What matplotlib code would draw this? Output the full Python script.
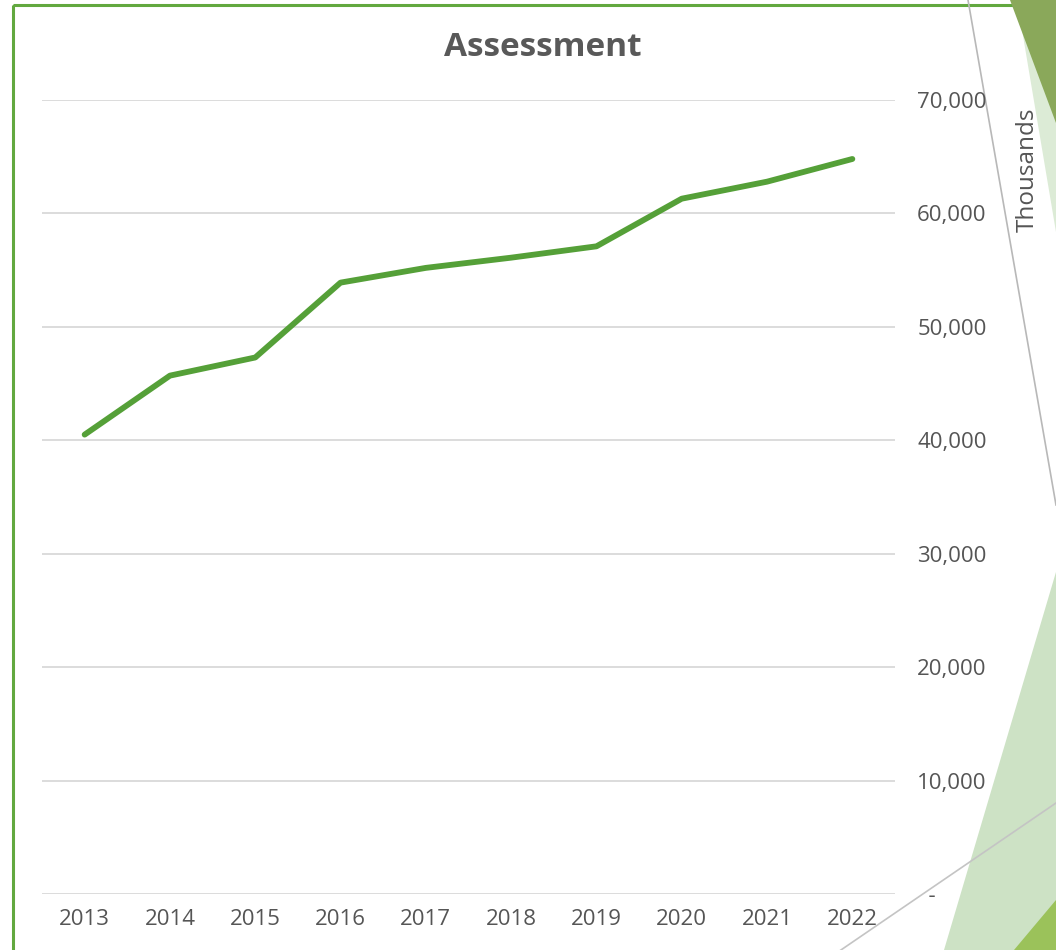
import matplotlib.pyplot as plt
from matplotlib.patches import Polygon, Rectangle
from matplotlib.ticker import FuncFormatter

years = ['2013', '2014', '2015', '2016', '2017', '2018', '2019', '2020', '2021', '2022']
assessment = [40500, 45700, 47300, 53900, 55200, 56100, 57100, 61300, 62800, 64800]
yticks = [0, 10000, 20000, 30000, 40000, 50000, 60000, 70000]

W, H = 1056, 950
fig = plt.figure(figsize=(W / 100, H / 100), dpi=100)

# slide decoration behind the chart (pixel coords)
bg = fig.add_axes([0, 0, 1, 1], zorder=0)
bg.set_xlim(0, W)
bg.set_ylim(H, 0)
bg.axis('off')
bg.add_patch(Rectangle((12.5, 4.5), 1200, 960, fill=False, ec='#62a83f', lw=2.2))
bg.add_patch(Polygon([(1017, 0), (1056, 0), (1056, 232)], closed=True, color='#dcebd6', lw=0))
bg.add_patch(Polygon([(1010, 0), (1056, 0), (1056, 123)], closed=True, color='#8aa85a', lw=0))
bg.add_patch(Polygon([(1056, 572), (1056, 950), (944, 950)], closed=True, color='#cde2c5', lw=0))
bg.add_patch(Polygon([(1056, 900), (1056, 950), (1014, 950)], closed=True, color='#9bc25a', lw=0))
bg.plot([968, 1056], [0, 505], color='#b8b8b8', lw=1.2)
bg.plot([838, 1056], [952, 803], color='#c4c4c4', lw=1.2)

ax = fig.add_axes([42 / W, 1 - 894 / H, (895 - 42) / W, (894 - 100) / H], zorder=1)
ax.patch.set_alpha(0)
x = list(range(len(years)))
ax.plot(x, assessment, color='#55a038', lw=4.2, solid_capstyle='round', solid_joinstyle='round', zorder=3)

ax.set_xlim(-0.5, len(years) - 0.5)
ax.set_ylim(0, 70000)
ax.set_xticks(x)
ax.set_xticklabels(years)
ax.set_yticks(yticks)
ax.yaxis.set_major_formatter(FuncFormatter(lambda v, p: '  -' if v == 0 else '{:,.0f}'.format(v)))
ax.yaxis.tick_right()
ax.grid(axis='y', color='#d9d9d9', lw=1.3)
ax.set_axisbelow(True)
for s in ax.spines.values():
    s.set_visible(False)
ax.tick_params(axis='y', length=0, pad=16, labelsize=16, labelcolor='#555555')
ax.tick_params(axis='x', length=0, pad=11, labelsize=16, labelcolor='#555555')
for lab in ax.get_xticklabels() + ax.get_yticklabels():
    lab.set_fontfamily('Open Sans')
    lab.set_fontweight('medium')
for lab in ax.get_yticklabels():
    lab.set_horizontalalignment('left')

fig.text(543 / W, 1 - 47 / H, 'Assessment', ha='center', va='center', fontsize=24,
         fontweight='bold', color='#595959', family='Open Sans')
fig.text(1028 / W, 1 - 170 / H, 'Thousands', ha='center', va='center', rotation=90,
         fontsize=17.5, color='#555555', family='Open Sans')

fig.savefig('out.png', dpi=100)
